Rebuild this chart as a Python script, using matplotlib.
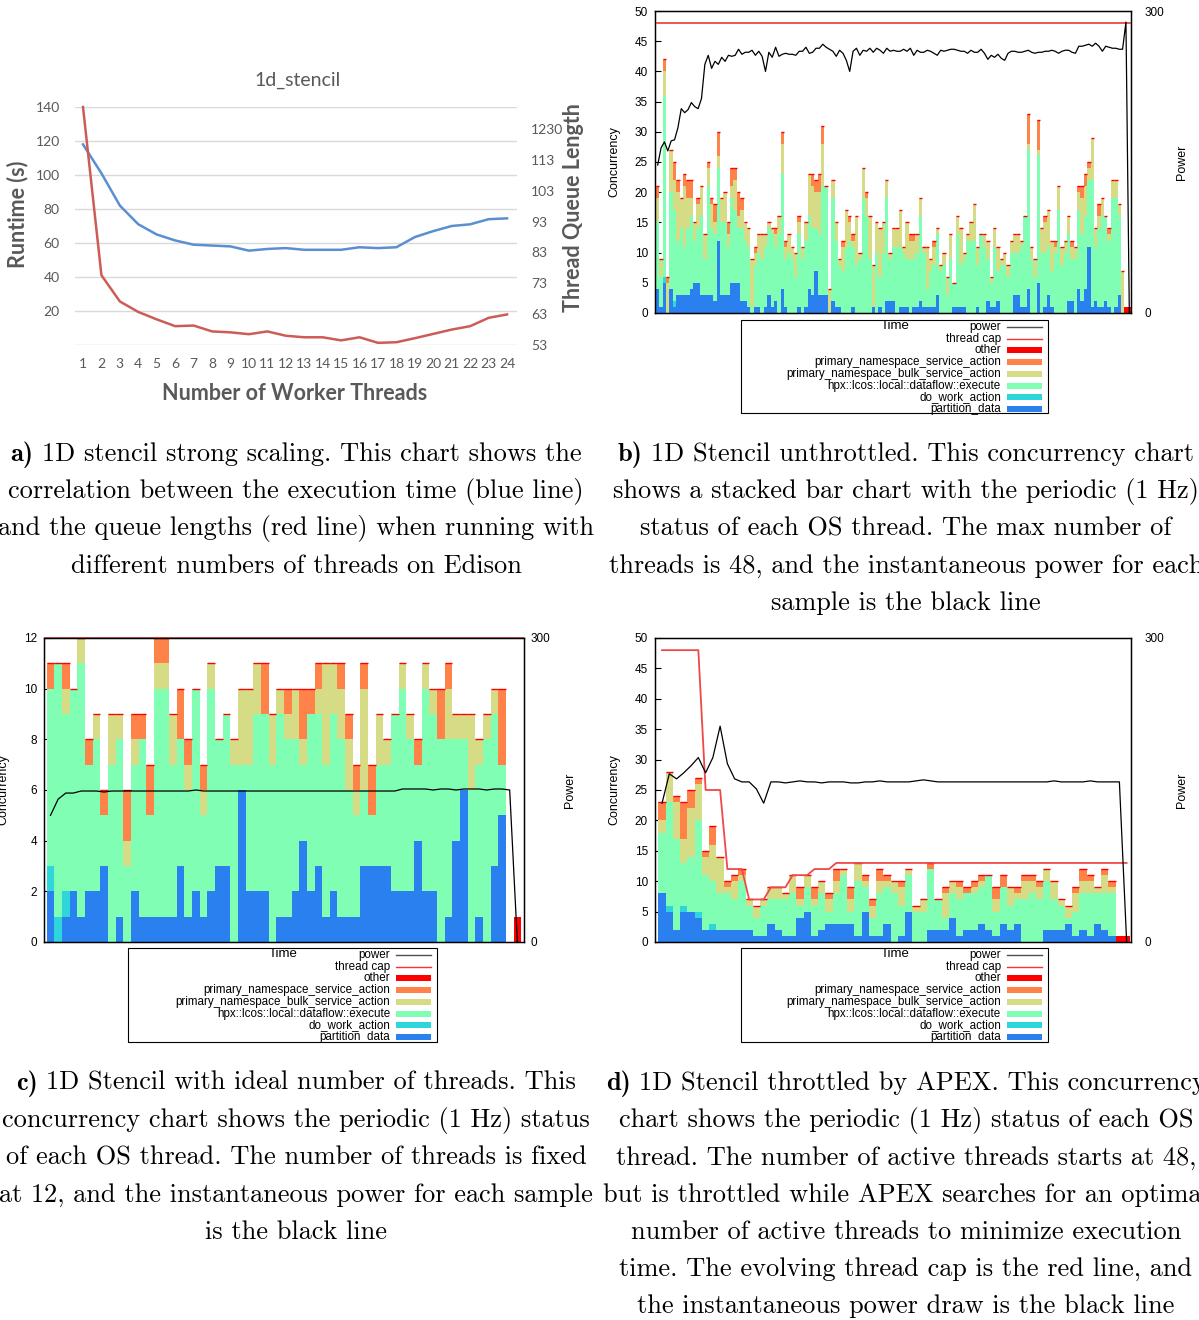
import numpy as np
import matplotlib.pyplot as plt
from matplotlib.patches import Rectangle

W, H = 1199, 1320

# ---------------- (a) 1d_stencil strong scaling ----------------
threads = [1, 2, 3, 4, 5, 6, 7, 8, 9, 10, 11, 12, 13, 14, 15, 16, 17, 18, 19, 20, 21, 22, 23, 24]
runtime = [118, 101, 82, 71, 65, 61.5, 59, 58.5, 58, 55.5, 56.5, 57, 56, 56, 56, 57.5, 57, 57.5,
           63.5, 67, 70, 71, 74, 74.5]
queue_len = [130.1, 75.6, 67.1, 63.7, 61.3, 59.1, 59.3, 57.4, 57.1, 56.5, 57.4, 56.0, 55.5, 55.5,
             54.5, 55.5, 53.7, 53.9, 55.2, 56.6, 58.0, 59.1, 61.8, 62.9]
queue_ticks = [53, 63, 73, 83, 93, 103, 113, 123]
queue_labels = ['53', '63', '73', '83', '93', '103', '113', '1230']

# ---------------- (b) unthrottled ----------------
b_partition = [4, 1, 5, 0, 4, 1, 3, 3, 3, 3, 4, 5, 5, 3, 3, 3, 3, 2, 12, 3,
               3, 3, 5, 5, 5, 2, 2, 1, 0, 1, 1, 0, 1, 3, 1, 2, 0, 4, 1, 0,
               0, 0, 1, 0, 1, 4, 3, 7, 3, 3, 3, 0, 2, 1, 1, 0, 0, 0, 1, 0,
               0, 0, 0, 0, 1, 0, 1, 0, 2, 2, 2, 0, 1, 1, 1, 0, 1, 1, 2, 1,
               1, 1, 1, 3, 0, 0, 0, 0, 1, 1, 1, 1, 0, 0, 0, 1, 0, 0, 2, 1,
               1, 2, 0, 0, 0, 0, 3, 3, 1, 1, 4, 0, 0, 5, 0, 1, 3, 1, 0, 0,
               0, 0, 2, 2, 0, 4, 2, 4, 11, 1, 2, 1, 1, 2, 1, 0, 1, 3, 0, 0, 0]
b_do_work = [0, 0, 1, 0, 0, 1, 0, 0, 0, 0, 0, 0, 0, 0, 0, 0, 0, 0, 0, 0,
             0, 0, 0, 0, 0, 0, 0, 0, 0, 0, 0, 0, 0, 0, 0, 0, 0, 0, 0, 0,
             0, 0, 0, 0, 0, 0, 0, 0, 0, 0, 0, 0, 0, 0, 0, 0, 0, 0, 0, 0,
             0, 0, 0, 0, 0, 0, 0, 0, 0, 0, 0, 0, 0, 0, 0, 0, 0, 0, 0, 0,
             0, 0, 0, 0, 0, 0, 0, 0, 0, 0, 0, 0, 0, 0, 0, 0, 0, 0, 0, 0,
             0, 0, 0, 0, 0, 0, 0, 0, 0, 0, 0, 0, 0, 0, 0, 0, 0, 0, 0, 0,
             0, 0, 0, 0, 0, 0, 0, 0, 0, 0, 0, 0, 0, 0, 0, 0, 0, 0, 0, 0, 0]
b_dataflow = [11, 5, 30, 0, 16, 15, 9, 11, 8, 11, 12, 7, 9, 13, 6, 18, 11, 11, 12, 12,
              12, 8, 14, 12, 9, 12, 10, 10, 1, 7, 9, 9, 10, 11, 12, 9, 13, 19, 8, 10,
              9, 6, 12, 9, 11, 12, 11, 7, 10, 18, 18, 0, 17, 11, 7, 7, 11, 12, 10, 8,
              9, 19, 16, 9, 0, 10, 5, 10, 17, 7, 9, 11, 10, 9, 8, 9, 8, 9, 14, 9,
              3, 6, 7, 10, 7, 8, 3, 9, 4, 12, 7, 8, 12, 12, 12, 7, 13, 11, 7, 4,
              10, 5, 8, 8, 6, 10, 7, 7, 10, 15, 23, 9, 6, 21, 10, 9, 8, 6, 10, 17,
              8, 10, 11, 7, 9, 13, 11, 12, 11, 21, 9, 13, 15, 14, 11, 19, 18, 13, 0, 0, 0]
b_bulk = [4, 3, 4, 5, 7, 5, 8, 5, 10, 5, 3, 3, 4, 5, 4, 3, 4, 2, 2, 4,
          5, 2, 2, 5, 2, 3, 3, 3, 8, 2, 3, 4, 2, 1, 1, 2, 3, 5, 2, 3,
          2, 4, 2, 2, 3, 7, 7, 6, 7, 7, 0, 4, 3, 3, 1, 4, 6, 3, 1, 8,
          1, 5, 3, 7, 7, 5, 8, 5, 3, 1, 3, 3, 6, 1, 6, 3, 3, 3, 3, 1,
          7, 2, 3, 1, 1, 2, 3, 4, 0, 3, 6, 1, 1, 3, 6, 3, 0, 2, 3, 1,
          3, 4, 1, 2, 2, 2, 3, 3, 1, 0, 1, 2, 3, 1, 4, 5, 6, 5, 1, 4,
          3, 2, 3, 2, 2, 3, 6, 5, 2, 7, 3, 2, 3, 0, 1, 3, 3, 2, 7, 0, 0]
b_service = [2, 0, 2, 1, 0, 3, 2, 0, 2, 3, 3, 0, 1, 0, 0, 1, 1, 3, 4, 0,
             0, 2, 3, 2, 4, 2, 0, 0, 0, 1, 0, 0, 0, 0, 0, 1, 0, 2, 1, 0,
             0, 0, 1, 0, 0, 0, 2, 2, 3, 3, 0, 0, 0, 0, 0, 1, 0, 1, 1, 0,
             0, 0, 1, 0, 0, 0, 0, 0, 0, 0, 0, 0, 0, 0, 0, 1, 1, 0, 0, 0,
             0, 0, 1, 0, 0, 0, 0, 0, 0, 0, 0, 0, 0, 0, 0, 0, 0, 0, 0, 0,
             0, 0, 0, 0, 0, 0, 0, 0, 0, 0, 5, 0, 0, 5, 0, 1, 0, 0, 1, 0,
             0, 0, 0, 1, 0, 1, 2, 2, 1, 0, 0, 2, 0, 0, 1, 0, 0, 0, 0, 0, 0]
b_other = [0, 0, 0, 0, 0, 0, 0, 0, 0, 0, 0, 0, 0, 0, 0, 0, 0, 0, 0, 0,
           0, 0, 0, 0, 0, 0, 0, 0, 0, 0, 0, 0, 0, 0, 0, 0, 0, 0, 0, 0,
           0, 0, 0, 0, 0, 0, 0, 0, 0, 0, 0, 0, 0, 0, 0, 0, 0, 0, 0, 0,
           0, 0, 0, 0, 0, 0, 0, 0, 0, 0, 0, 0, 0, 0, 0, 0, 0, 0, 0, 0,
           0, 0, 0, 0, 0, 0, 0, 0, 0, 0, 0, 0, 0, 0, 0, 0, 0, 0, 0, 0,
           0, 0, 0, 0, 0, 0, 0, 0, 0, 0, 0, 0, 0, 0, 0, 0, 0, 0, 0, 0,
           0, 0, 0, 0, 0, 0, 0, 0, 0, 0, 0, 0, 0, 0, 0, 0, 0, 0, 0, 1, 1]
b_power = [147, 164, 170, 161, 171, 172, 184, 203, 199, 202, 209, 205, 203, 213,
           247, 256, 243, 250, 247, 254, 250, 256, 255, 256, 262, 257, 259, 259, 261, 256, 260, 255,
           240, 259, 254, 264, 255, 257, 258, 257, 257, 256, 260, 260, 264, 258, 259, 263, 263, 267,
           264, 262, 260, 255, 261, 258, 251, 240, 260, 263, 256, 261, 260, 263, 259, 263, 261, 258,
           263, 260, 261, 260, 260, 262, 260, 263, 256, 261, 259, 259, 261, 260, 258, 256, 261, 260,
           261, 262, 262, 261, 260, 260, 258, 261, 259, 259, 262, 258, 252, 256, 254, 257, 253, 251,
           258, 260, 260, 259, 259, 260, 261, 259, 258, 259, 259, 260, 260, 261, 260, 258, 260, 261,
           261, 259, 258, 265, 265, 266, 267, 265, 268, 265, 260, 265, 264, 263, 263, 262,
           262, 289, 0]
b_cap = 48

# ---------------- (c) ideal number of threads ----------------
c_partition = [2, 0, 1, 2, 1, 2, 2, 3, 0, 1, 0, 2, 1, 1, 1, 1, 1, 3, 1, 2,
               1, 2, 3, 3, 0, 6, 2, 2, 2, 0, 1, 1, 2, 4, 2, 3, 1, 2, 1, 1,
               1, 3, 3, 3, 3, 2, 2, 2, 4, 2, 2, 0, 1, 4, 6, 0, 1, 0, 3, 5, 0, 0]
c_do_work = [1, 1, 1, 0, 0, 0, 0, 0, 0, 0, 0, 0, 0, 0, 0, 0, 0, 0, 0, 0,
             0, 0, 0, 0, 0, 0, 0, 0, 0, 0, 0, 0, 0, 0, 0, 0, 0, 0, 0, 0,
             0, 0, 0, 0, 0, 0, 0, 0, 0, 0, 0, 0, 0, 0, 0, 0, 0, 0, 0, 0, 0, 0]
c_dataflow = [7, 10, 7, 8, 10, 5, 6, 2, 7, 7, 3, 5, 7, 4, 9, 9, 6, 5, 5, 8,
              4, 8, 5, 6, 7, 1, 5, 7, 7, 7, 8, 7, 6, 3, 7, 6, 6, 7, 7, 5,
              4, 3, 2, 4, 4, 7, 8, 6, 3, 8, 7, 8, 7, 4, 2, 6, 6, 8, 6, 2, 0, 0]
c_bulk = [0, 0, 1, 0, 1, 0, 1, 0, 2, 1, 1, 1, 0, 0, 1, 1, 2, 0, 1, 0,
          1, 1, 0, 0, 1, 3, 3, 2, 0, 2, 1, 1, 2, 1, 0, 1, 4, 2, 2, 2,
          1, 4, 0, 2, 1, 0, 1, 1, 0, 1, 1, 0, 2, 1, 1, 3, 1, 1, 1, 0, 0, 0]
c_service = [1, 0, 1, 0, 0, 1, 0, 1, 0, 0, 2, 1, 1, 2, 1, 1, 0, 2, 1, 0,
             1, 0, 0, 0, 0, 0, 0, 0, 2, 0, 0, 1, 0, 2, 1, 1, 0, 0, 1, 1,
             1, 1, 2, 0, 0, 0, 0, 0, 1, 0, 0, 2, 1, 0, 0, 0, 0, 0, 0, 3, 0, 0]
c_other = [0, 0, 0, 0, 0, 0, 0, 0, 0, 0, 0, 0, 0, 0, 0, 0, 0, 0, 0, 0,
           0, 0, 0, 0, 0, 0, 0, 0, 0, 0, 0, 0, 0, 0, 0, 0, 0, 0, 0, 0,
           0, 0, 0, 0, 0, 0, 0, 0, 0, 0, 0, 0, 0, 0, 0, 0, 0, 0, 0, 0, 0, 1]
c_power = [125, 141, 147, 147, 149, 149, 149, 148, 149, 149, 149, 149, 149, 149, 149, 149, 149, 149, 149, 150,
           149, 149, 149, 149, 149, 149, 149, 149, 149, 149, 149, 149, 149, 149, 149, 149, 149, 149, 149, 149,
           149, 149, 149, 149, 149, 149, 151, 151, 151, 151, 150, 151, 151, 150, 151, 151, 151, 150, 151, 151,
           150, 0]
c_cap = 12

# ---------------- (d) throttled by APEX ----------------
d_partition = [8, 5, 2, 5, 5, 4, 2, 2, 2, 2, 2, 2, 2, 1, 1, 3, 2, 1, 1, 4,
               5, 1, 2, 3, 3, 3, 3, 1, 5, 1, 1, 3, 0, 1, 5, 0, 0, 2, 2, 2,
               4, 1, 2, 2, 3, 2, 1, 3, 2, 3, 0, 0, 0, 2, 2, 2, 3, 1, 2, 1,
               3, 2, 1, 0, 0]
d_do_work = [0, 1, 0, 1, 0, 1, 0, 1, 0, 0, 0, 0, 0, 0, 0, 0, 0, 0, 0, 0,
             0, 0, 0, 0, 0, 0, 0, 0, 0, 0, 0, 0, 0, 0, 0, 0, 0, 0, 0, 0,
             0, 0, 0, 0, 0, 0, 0, 0, 0, 0, 0, 0, 0, 0, 0, 0, 0, 0, 0, 0,
             0, 0, 0, 0, 0]
d_dataflow = [10, 17, 15, 7, 9, 15, 9, 7, 6, 6, 5, 8, 4, 3, 5, 4, 5, 6, 7, 2,
              4, 5, 6, 2, 5, 8, 2, 9, 4, 3, 7, 6, 8, 5, 6, 5, 5, 10, 5, 2,
              4, 6, 6, 6, 6, 9, 4, 6, 4, 4, 7, 8, 7, 8, 5, 4, 1, 4, 6, 7,
              5, 6, 7, 0, 0]
d_bulk = [2, 5, 6, 4, 8, 6, 3, 6, 6, 1, 3, 1, 1, 2, 1, 2, 2, 1, 3, 1,
          2, 1, 2, 2, 2, 1, 2, 3, 1, 2, 2, 1, 2, 3, 1, 1, 2, 0, 0, 4,
          2, 2, 0, 1, 1, 0, 2, 0, 3, 1, 3, 2, 2, 2, 3, 1, 2, 3, 2, 2,
          1, 3, 1, 0, 0]
d_service = [3, 0, 1, 6, 3, 1, 1, 3, 0, 1, 1, 1, 0, 0, 0, 0, 0, 0, 0, 2,
             0, 2, 0, 1, 2, 0, 2, 0, 1, 1, 2, 1, 0, 1, 0, 0, 0, 1, 0, 1,
             0, 1, 1, 1, 1, 0, 2, 2, 0, 1, 1, 1, 1, 0, 0, 0, 0, 1, 2, 1,
             0, 1, 1, 0, 0]
d_other = [0, 0, 0, 0, 0, 0, 0, 0, 0, 0, 0, 0, 0, 0, 0, 0, 0, 0, 0, 0,
           0, 0, 0, 0, 0, 0, 0, 0, 0, 0, 0, 0, 0, 0, 0, 0, 0, 0, 0, 0,
           0, 0, 0, 0, 0, 0, 0, 0, 0, 0, 0, 0, 0, 0, 0, 0, 0, 0, 0, 0,
           0, 0, 0, 1, 1]
d_power = [137, 166, 161, 167, 174, 182, 167, 182, 213, 176, 161, 158, 158, 151, 137, 158,
           158, 157, 158, 159, 158, 158, 157, 158, 158, 158, 157, 157, 158, 158, 159, 158,
           158, 158, 158, 159, 160, 159, 158, 158, 158, 158, 158, 158, 158, 158, 158, 158,
           158, 158, 158, 158, 158, 158, 159, 158, 158, 158, 158, 159, 158, 158, 158, 158,
           0]
d_cap = [48, 48, 48, 48, 48, 48, 25, 25, 25, 12, 12, 12, 7, 7, 7, 9, 9, 9, 11, 11,
         11, 12, 12, 12, 13, 13, 13, 13, 13, 13, 13, 13, 13, 13, 13, 13, 13, 13, 13, 13,
         13, 13, 13, 13, 13, 13, 13, 13, 13, 13, 13, 13, 13, 13, 13, 13, 13, 13, 13, 13,
         13, 13, 13, 13, 13]

series_names = ['partition_data', 'do_work_action', 'hpx::lcos::local::dataflow::execute',
                'primary_namespace_bulk_service_action', 'primary_namespace_service_action', 'other']
series_colors = ['#2b80f0', '#2ed6dc', '#80ffb4', '#d6dc86', '#ff8248', '#ff0000']

fig = plt.figure(figsize=(W / 100, H / 100), dpi=100)
gfont = 'Liberation Sans'


def place(l, t, r, b):
    return fig.add_axes([l / W, 1 - b / H, (r - l) / W, (b - t) / H])


# ---------------- panel a ----------------
grey = '#595959'
axA = place(75, 107, 517, 345)
axA.plot(threads, runtime, color='#5a8fd0', lw=1.8)
axA.set_xlim(0.566, 24.54)
axA.set_ylim(0, 140)
axA.set_yticks([0, 20, 40, 60, 80, 100, 120, 140])
axA.set_yticklabels(['', '20', '40', '60', '80', '100', '120', '140'])
axA.set_xticks(threads)
axA.yaxis.grid(True, color='#d9d9d9', lw=1)
axA.set_axisbelow(True)
axA.tick_params(length=0, labelsize=10, labelcolor=grey)
axA.tick_params(axis='y', pad=11)
axA.tick_params(axis='x', pad=9)
for lab in axA.get_xticklabels() + axA.get_yticklabels():
    lab.set_family('Lato')
for s in axA.spines.values():
    s.set_visible(False)
twA = axA.twinx()
twA.plot(threads, queue_len, color='#cd5c56', lw=1.8, clip_on=False)
twA.set_ylim(53, 130.1)
twA.set_yticks(queue_ticks)
twA.set_yticklabels(queue_labels)
twA.tick_params(length=0, labelsize=10, labelcolor=grey, pad=10)
for lab in twA.get_yticklabels():
    lab.set_family('Lato')
for s in twA.spines.values():
    s.set_visible(False)


# ---------------- concurrency panels ----------------
def conc_panel(rect, series, power, ymax, ystep, xlim, lpad, rpad):
    ax = place(*rect)
    n = len(series[0])
    x = np.arange(n)
    bottom = np.zeros(n)
    for vals, col in zip(series, series_colors):
        v = np.array(vals, dtype=float)
        ax.bar(x, v, 1.0, bottom=bottom, color=col, linewidth=0, antialiased=False, zorder=2)
        bottom += v
        if col == series_colors[4]:
            tops = bottom.copy()
    mask = tops > 0
    ax.hlines(tops[mask], x[mask] - 0.5, x[mask] + 0.5, color='#ff0000', lw=1.0, zorder=3)
    ax.set_xlim(*xlim)
    ax.set_ylim(0, ymax)
    ax.set_yticks(np.arange(0, ymax + 1, ystep))
    ax.set_xticks([])
    ax.tick_params(axis='y', direction='in', right=True, length=4, pad=lpad, labelsize=8.5)
    for lab in ax.get_yticklabels():
        lab.set_family(gfont)
    for s in ax.spines.values():
        s.set_linewidth(1.0)
    tw = ax.twinx()
    tw.plot(x, power, color='black', lw=0.9)
    tw.set_ylim(0, 300)
    tw.set_yticks([0, 300])
    tw.tick_params(length=0, pad=rpad, labelsize=8.5)
    for lab in tw.get_yticklabels():
        lab.set_family(gfont)
    tw.set_xlim(*xlim)
    return ax, x


axB, xB = conc_panel((655, 11, 1131, 313),
                     [b_partition, b_do_work, b_dataflow, b_bulk, b_service, b_other],
                     b_power, 50, 5, (-0.8, 140.5), 5, 10)
axB.hlines(b_cap, -0.5, len(xB) - 0.5, color='#f04848', lw=1.3, zorder=4)

axC, xC = conc_panel((44, 638, 524, 942),
                     [c_partition, c_do_work, c_dataflow, c_bulk, c_service, c_other],
                     c_power, 12, 2, (-0.85, 61.87), 5, 5)
axC.hlines(c_cap, -0.85, 61.87, color='#b03030', lw=1.2, zorder=4, clip_on=False)

axD, xD = conc_panel((655, 638, 1131, 942),
                     [d_partition, d_do_work, d_dataflow, d_bulk, d_service, d_other],
                     d_power, 50, 5, (-0.97, 64.6), 5, 10)
axD.plot(xD, d_cap, color='#f04848', lw=1.3, zorder=4)

# ---------------- overlay: labels, legends, captions ----------------
ov = fig.add_axes([0, 0, 1, 1])
ov.set_xlim(0, W)
ov.set_ylim(H, 0)
ov.axis('off')

ov.text(298, 80, '1d_stencil', ha='center', va='center', size=14, color=grey, family='Lato')
ov.text(18, 214, 'Runtime (s)', ha='center', va='center', rotation=90, size=15.5,
        weight='bold', color=grey, family='Lato')
ov.text(574, 208, 'Thread Queue Length', ha='center', va='center', rotation=90, size=15.5,
        weight='bold', color=grey, family='Lato')
ov.text(295, 393, 'Number of Worker Threads', ha='center', va='center', size=15.5,
        weight='bold', color=grey, family='Lato')

for cx, cy, px in [(614, 162, 1182), (3, 790, 570), (614, 790, 1182)]:
    ov.text(cx, cy, 'Concurrency', ha='center', va='center', rotation=90, size=9, family=gfont)
    ov.text(px, cy, 'Power', ha='center', va='center', rotation=90, size=9, family=gfont)

legend_entries = [('power', 'line', '#505050'), ('thread cap', 'line', '#ff3030')] + \
                 [(nm, 'patch', col) for nm, col in zip(series_names[::-1], series_colors[::-1])]


def legend_box(l, t, r, b, text_right, samp_l, samp_r, time_x):
    ov.add_patch(Rectangle((l, t), r - l, b - t, fill=False, ec='black', lw=0.8))
    for j, (label, kind, col) in enumerate(legend_entries):
        y = t + 7 + j * 11.7
        ov.text(text_right, y, label, ha='right', va='center', size=8.4, family=gfont)
        if kind == 'line':
            ov.plot([samp_l, samp_r], [y, y], color=col, lw=1.0)
        else:
            ov.add_patch(Rectangle((samp_l, y - 3), samp_r - samp_l, 6, color=col, lw=0))
    ov.text(time_x, t + 6, 'Time', ha='center', va='center', size=9.5, family=gfont)


legend_box(741, 320, 1048, 413, 1001, 1007, 1042, 895)
legend_box(128, 948, 437, 1042, 390, 396, 431, 283)
legend_box(741, 948, 1048, 1042, 1001, 1007, 1042, 895)

renderer = fig.canvas.get_renderer()


def text_width(s, family, size):
    t = ov.text(0, 0, s, family=family, size=size)
    w = t.get_window_extent(renderer).width
    t.remove()
    return w


cap_size = 10 * 453 / text_width('different numbers of threads on Edison', 'cmr10', 10)
gap = cap_size * 1.389 * 0.33

captions = [
    (296, 461, 'a)', ['1D stencil strong scaling. This chart shows the',
                      'correlation between the execution time (blue line)',
                      'and the queue lengths (red line) when running with',
                      'different numbers of threads on Edison']),
    (906, 461, 'b)', ['1D Stencil unthrottled. This concurrency chart',
                      'shows a stacked bar chart with the periodic (1 Hz)',
                      'status of each OS thread. The max number of',
                      'threads is 48, and the instantaneous power for each',
                      'sample is the black line']),
    (296, 1090, 'c)', ['1D Stencil with ideal number of threads. This',
                       'concurrency chart shows the periodic (1 Hz) status',
                       'of each OS thread. The number of threads is fixed',
                       'at 12, and the instantaneous power for each sample',
                       'is the black line']),
    (906, 1090, 'd)', ['1D Stencil throttled by APEX. This concurrency',
                       'chart shows the periodic (1 Hz) status of each OS',
                       'thread. The number of active threads starts at 48,',
                       'but is throttled while APEX searches for an optimal',
                       'number of active threads to minimize execution',
                       'time. The evolving thread cap is the red line, and',
                       'the instantaneous power draw is the black line']),
]

for cx, y0, label, lines in captions:
    for j, line in enumerate(lines):
        y = y0 + j * 37.2
        if j == 0:
            wl = text_width(label, 'cmb10', cap_size)
            wr = text_width(line, 'cmr10', cap_size)
            x0 = cx - (wl + gap + wr) / 2
            ov.text(x0, y, label, ha='left', va='baseline', family='cmb10', size=cap_size)
            ov.text(x0 + wl + gap, y, line, ha='left', va='baseline', family='cmr10', size=cap_size)
        else:
            ov.text(cx, y, line, ha='center', va='baseline', family='cmr10', size=cap_size)

fig.savefig('out.png', dpi=100)
